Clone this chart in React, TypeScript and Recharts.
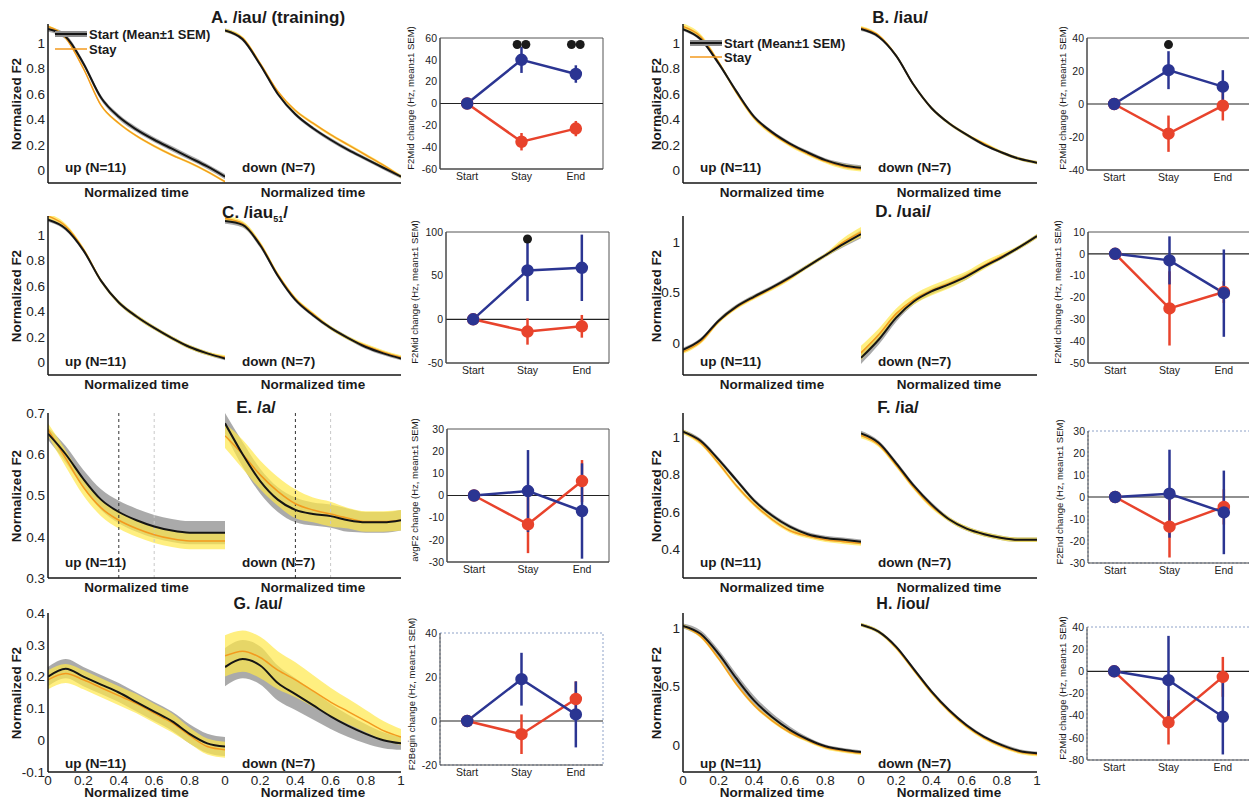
import React from 'react';
import {
  ComposedChart,
  Line,
  Area,
  Scatter,
  XAxis,
  YAxis,
  ErrorBar,
  ReferenceLine,
  ReferenceArea,
} from 'recharts';

const FONT = '"Liberation Sans", Arial, Helvetica, sans-serif';

// 归一化时间采样点
const timePoints = [0, 0.1, 0.2, 0.3, 0.4, 0.5, 0.6, 0.7, 0.8, 0.9, 1];
const timeTicks = [0, 0.2, 0.4, 0.6, 0.8, 1];

// A. /iau/ (training)
const aUpStart = [1.11, 1.05, 0.84, 0.57, 0.42, 0.32, 0.24, 0.17, 0.1, 0.03, -0.05];
const aUpStartSem = [0.02, 0.02, 0.02, 0.02, 0.02, 0.02, 0.02, 0.02, 0.02, 0.02, 0.02];
const aUpStay = [1.13, 1.04, 0.8, 0.51, 0.37, 0.27, 0.19, 0.12, 0.06, -0.01, -0.09];
const aUpStaySem = [0.01, 0.01, 0.01, 0.01, 0.01, 0.01, 0.01, 0.01, 0.01, 0.01, 0.01];
const aDownStart = [1.1, 1.03, 0.83, 0.6, 0.44, 0.33, 0.24, 0.16, 0.09, 0.02, -0.05];
const aDownStartSem = [0.015, 0.015, 0.015, 0.015, 0.015, 0.015, 0.015, 0.015, 0.015, 0.015, 0.015];
const aDownStay = [1.1, 1.04, 0.84, 0.62, 0.47, 0.37, 0.28, 0.2, 0.12, 0.04, -0.05];
const aDownStaySem = [0.012, 0.012, 0.012, 0.012, 0.012, 0.012, 0.012, 0.012, 0.012, 0.012, 0.012];

// B. /iau/
const bUpStart = [1.11, 1.03, 0.84, 0.62, 0.42, 0.3, 0.21, 0.14, 0.08, 0.04, 0.02];
const bUpStartSem = [0.015, 0.015, 0.015, 0.015, 0.015, 0.015, 0.015, 0.015, 0.015, 0.02, 0.02];
const bUpStay = [1.13, 1.05, 0.85, 0.61, 0.41, 0.29, 0.2, 0.13, 0.07, 0.03, 0.01];
const bUpStaySem = [0.025, 0.02, 0.015, 0.015, 0.015, 0.015, 0.015, 0.015, 0.015, 0.02, 0.02];
const bDownStart = [1.11, 1.05, 0.9, 0.67, 0.49, 0.37, 0.28, 0.2, 0.14, 0.09, 0.06];
const bDownStartSem = [0.015, 0.012, 0.012, 0.012, 0.012, 0.012, 0.012, 0.012, 0.012, 0.012, 0.012];
const bDownStay = [1.12, 1.06, 0.9, 0.67, 0.49, 0.37, 0.28, 0.21, 0.14, 0.09, 0.06];
const bDownStaySem = [0.015, 0.012, 0.012, 0.012, 0.012, 0.012, 0.012, 0.012, 0.012, 0.012, 0.012];

// C. /iau51/
const cUpStart = [1.12, 1.05, 0.88, 0.64, 0.47, 0.36, 0.27, 0.19, 0.12, 0.07, 0.03];
const cUpStartSem = [0.015, 0.015, 0.015, 0.015, 0.015, 0.015, 0.015, 0.015, 0.015, 0.015, 0.015];
const cUpStay = [1.15, 1.07, 0.89, 0.64, 0.47, 0.36, 0.27, 0.19, 0.12, 0.07, 0.04];
const cUpStaySem = [0.02, 0.02, 0.015, 0.015, 0.015, 0.015, 0.015, 0.015, 0.015, 0.015, 0.015];
const cDownStart = [1.11, 1.08, 0.92, 0.68, 0.49, 0.37, 0.27, 0.19, 0.12, 0.07, 0.03];
const cDownStartSem = [0.02, 0.02, 0.02, 0.015, 0.015, 0.015, 0.015, 0.015, 0.015, 0.015, 0.015];
const cDownStay = [1.13, 1.09, 0.93, 0.69, 0.5, 0.38, 0.27, 0.19, 0.13, 0.08, 0.04];
const cDownStaySem = [0.02, 0.02, 0.02, 0.015, 0.015, 0.015, 0.015, 0.015, 0.015, 0.015, 0.015];

// D. /uai/
const dUpStart = [-0.07, 0.03, 0.22, 0.36, 0.46, 0.55, 0.65, 0.76, 0.87, 0.98, 1.08];
const dUpStartSem = [0.02, 0.02, 0.02, 0.02, 0.02, 0.02, 0.02, 0.02, 0.02, 0.03, 0.04];
const dUpStay = [-0.09, 0.01, 0.21, 0.35, 0.45, 0.54, 0.64, 0.76, 0.87, 1.0, 1.1];
const dUpStaySem = [0.02, 0.02, 0.02, 0.02, 0.02, 0.02, 0.02, 0.02, 0.02, 0.04, 0.05];
const dDownStart = [-0.15, 0.03, 0.25, 0.41, 0.51, 0.58, 0.66, 0.76, 0.85, 0.95, 1.06];
const dDownStartSem = [0.06, 0.05, 0.04, 0.03, 0.03, 0.03, 0.03, 0.02, 0.02, 0.02, 0.02];
const dDownStay = [-0.1, 0.08, 0.29, 0.43, 0.52, 0.59, 0.67, 0.77, 0.86, 0.95, 1.06];
const dDownStaySem = [0.07, 0.06, 0.05, 0.05, 0.05, 0.05, 0.04, 0.04, 0.03, 0.02, 0.02];

// E. /a/
const eUpStart = [0.65, 0.6, 0.54, 0.49, 0.46, 0.44, 0.425, 0.415, 0.41, 0.41, 0.41];
const eUpStartSem = [0.015, 0.02, 0.022, 0.025, 0.027, 0.028, 0.028, 0.028, 0.028, 0.028, 0.028];
const eUpStay = [0.66, 0.59, 0.52, 0.47, 0.44, 0.42, 0.405, 0.395, 0.39, 0.39, 0.39];
const eUpStaySem = [0.015, 0.02, 0.02, 0.02, 0.02, 0.02, 0.02, 0.02, 0.02, 0.02, 0.02];
const eDownStart = [0.675, 0.6, 0.535, 0.49, 0.465, 0.455, 0.45, 0.44, 0.435, 0.435, 0.44];
const eDownStartSem = [0.025, 0.03, 0.03, 0.03, 0.03, 0.028, 0.028, 0.028, 0.025, 0.025, 0.025];
const eDownStay = [0.645, 0.6, 0.55, 0.51, 0.48, 0.465, 0.455, 0.445, 0.437, 0.437, 0.44];
const eDownStaySem = [0.03, 0.035, 0.035, 0.035, 0.035, 0.03, 0.03, 0.025, 0.025, 0.025, 0.025];

// F. /ia/
const fUpStart = [1.03, 0.98, 0.88, 0.77, 0.66, 0.58, 0.52, 0.48, 0.46, 0.45, 0.44];
const fUpStartSem = [0.012, 0.012, 0.012, 0.012, 0.012, 0.012, 0.012, 0.012, 0.012, 0.012, 0.012];
const fUpStay = [1.03, 0.97, 0.86, 0.74, 0.64, 0.56, 0.5, 0.47, 0.45, 0.44, 0.43];
const fUpStaySem = [0.012, 0.012, 0.012, 0.012, 0.012, 0.012, 0.012, 0.012, 0.012, 0.012, 0.012];
const fDownStart = [1.02, 0.97, 0.86, 0.74, 0.64, 0.56, 0.51, 0.48, 0.46, 0.45, 0.45];
const fDownStartSem = [0.015, 0.012, 0.012, 0.012, 0.012, 0.012, 0.012, 0.012, 0.012, 0.012, 0.012];
const fDownStay = [1.01, 0.96, 0.85, 0.73, 0.63, 0.56, 0.51, 0.48, 0.46, 0.45, 0.45];
const fDownStaySem = [0.015, 0.012, 0.012, 0.012, 0.012, 0.012, 0.012, 0.012, 0.012, 0.012, 0.012];

// G. /au/
const gUpStart = [0.2, 0.225, 0.2, 0.175, 0.15, 0.12, 0.09, 0.06, 0.02, -0.01, -0.02];
const gUpStartSem = [0.03, 0.03, 0.03, 0.03, 0.03, 0.03, 0.03, 0.03, 0.03, 0.03, 0.03];
const gUpStay = [0.19, 0.21, 0.19, 0.165, 0.14, 0.115, 0.085, 0.055, 0.015, -0.02, -0.03];
const gUpStaySem = [0.03, 0.03, 0.03, 0.03, 0.03, 0.03, 0.03, 0.03, 0.025, 0.025, 0.025];
const gDownStart = [0.23, 0.255, 0.235, 0.18, 0.145, 0.11, 0.075, 0.045, 0.02, 0.0, -0.01];
const gDownStartSem = [0.06, 0.06, 0.06, 0.055, 0.05, 0.045, 0.04, 0.035, 0.03, 0.025, 0.02];
const gDownStay = [0.265, 0.28, 0.26, 0.22, 0.19, 0.155, 0.12, 0.09, 0.06, 0.03, 0.01];
const gDownStaySem = [0.065, 0.065, 0.065, 0.06, 0.055, 0.05, 0.045, 0.04, 0.035, 0.03, 0.025];

// H. /iou/
const hUpStart = [1.02, 0.95, 0.78, 0.57, 0.38, 0.24, 0.13, 0.05, -0.01, -0.04, -0.06];
const hUpStartSem = [0.02, 0.03, 0.035, 0.04, 0.04, 0.035, 0.03, 0.02, 0.015, 0.015, 0.015];
const hUpStay = [1.02, 0.93, 0.74, 0.52, 0.34, 0.21, 0.11, 0.04, -0.02, -0.05, -0.07];
const hUpStaySem = [0.015, 0.015, 0.015, 0.015, 0.015, 0.015, 0.015, 0.015, 0.015, 0.015, 0.015];
const hDownStart = [1.03, 0.97, 0.84, 0.65, 0.46, 0.3, 0.17, 0.07, 0.0, -0.05, -0.07];
const hDownStartSem = [0.015, 0.015, 0.015, 0.015, 0.015, 0.015, 0.015, 0.015, 0.015, 0.015, 0.015];
const hDownStay = [1.03, 0.97, 0.83, 0.64, 0.45, 0.29, 0.16, 0.06, -0.01, -0.06, -0.08];
const hDownStaySem = [0.015, 0.015, 0.015, 0.015, 0.015, 0.015, 0.015, 0.015, 0.015, 0.015, 0.015];

// 变化量面板 (Start / Stay / End)
const conditions = ['Start', 'Stay', 'End'];

const aBlue = [0, 40, 27];
const aBlueErr = [0, 12, 8];
const aRed = [0, -35, -23];
const aRedErr = [0, 8, 7];
const aSigX = [1.92, 2.08, 2.92, 3.08];
const aSigY = [54, 54, 54, 54];

const bBlue = [0, 20.5, 10.5];
const bBlueErr = [0, 11.5, 10];
const bRed = [0, -18, -1];
const bRedErr = [0, 11, 9];
const bSigX = [2];
const bSigY = [36];

const cBlue = [0, 56, 59];
const cBlueErr = [0, 35, 38];
const cRed = [0, -14, -8];
const cRedErr = [0, 15, 13];
const cSigX = [2];
const cSigY = [92];

const dBlue = [0, -3, -18];
const dBlueErr = [0, 11, 20];
const dRed = [0, -25, -17.5];
const dRedErr = [0, 17, 5];

const eBlue = [0, 2, -7];
const eBlueErr = [0, 18.5, 21.5];
const eRed = [0, -13, 6.5];
const eRedErr = [0, 13, 9.5];

const fBlue = [0, 1.5, -7];
const fBlueErr = [0, 20, 19];
const fRed = [0, -13.5, -4.5];
const fRedErr = [0, 14, 8];

const gBlue = [0, 19, 3];
const gBlueErr = [0, 12, 15];
const gRed = [0, -6, 10];
const gRedErr = [0, 9, 8];

const hBlue = [0, -8, -41];
const hBlueErr = [0, 40, 34];
const hRed = [0, -46, -5];
const hRedErr = [0, 20, 18];

// 颜色
const BLUE = '#2b3592';
const RED = '#e8432c';
const ORANGE = '#f39a1e';
const INK = '#151515';

const unitTicks = [0, 0.2, 0.4, 0.6, 0.8, 1];

function trajRows(start: number[], startSem: number[], stay: number[], staySem: number[]) {
  return timePoints.map((t, i) => ({
    t,
    start: start[i],
    stay: stay[i],
    startBand: [start[i] - startSem[i], start[i] + startSem[i]],
    stayBand: [stay[i] - staySem[i], stay[i] + staySem[i]],
  }));
}

function changeRows(blue: number[], blueErr: number[], red: number[], redErr: number[]) {
  return conditions.map((c, i) => ({
    x: i + 1,
    blue: blue[i],
    blueErr: blueErr[i],
    red: red[i],
    redErr: redErr[i],
  }));
}

function sigRows(xs: number[], ys: number[]) {
  return xs.map((x, i) => ({ x, y: ys[i] }));
}

interface TrajProps {
  x: number;
  y: number;
  w: number;
  h: number;
  domain: [number, number];
  yTicks: number[];
  rows: ReturnType<typeof trajRows>;
  showY?: boolean;
  xLabels?: boolean;
  hideLastX?: boolean;
  dashed?: boolean;
}

function TrajPanel({ x, y, w, h, domain, yTicks, rows, showY, xLabels, hideLastX, dashed }: TrajProps) {
  const yW = showY ? 44 : 0;
  const padLeft = showY ? 0 : 8;
  const padTop = 10;
  const padRight = 4;
  const xH = 24;
  return (
    <div style={{ position: 'absolute', left: x - yW - padLeft, top: y - padTop }}>
      <ComposedChart
        width={w + yW + padLeft + padRight}
        height={h + padTop + xH}
        data={rows}
        margin={{ top: padTop, right: padRight, left: padLeft, bottom: 0 }}
      >
        <XAxis
          type="number"
          dataKey="t"
          domain={[0, 1]}
          ticks={timeTicks}
          interval={0}
          allowDataOverflow
          height={xH}
          axisLine={{ stroke: INK, strokeWidth: 1.5 }}
          tickLine={false}
          tickSize={2}
          tickMargin={1}
          tick={xLabels ? { fontSize: 13.5, fill: '#222', fontFamily: FONT } : false}
          tickFormatter={(v: number) => (hideLastX && v === 1 ? '' : String(v))}
        />
        <YAxis
          type="number"
          domain={domain}
          ticks={yTicks}
          interval={0}
          allowDataOverflow
          width={yW}
          axisLine={{ stroke: INK, strokeWidth: 1.5 }}
          tickLine={false}
          tickSize={2}
          tickMargin={1}
          tick={showY ? { fontSize: 13.5, fill: '#222', fontFamily: FONT } : false}
        />
        <Area
          type="monotone"
          dataKey="startBand"
          stroke="none"
          fill="#8e8e8e"
          fillOpacity={0.75}
          isAnimationActive={false}
        />
        <Area
          type="monotone"
          dataKey="stayBand"
          stroke="none"
          fill="#ffe84a"
          fillOpacity={0.7}
          isAnimationActive={false}
        />
        {dashed && <ReferenceLine x={0.4} stroke="#333" strokeDasharray="3 3" />}
        {dashed && <ReferenceLine x={0.6} stroke="#c8c8c8" strokeDasharray="3 3" />}
        <Line
          type="monotone"
          dataKey="stay"
          stroke={ORANGE}
          strokeWidth={1.5}
          dot={false}
          isAnimationActive={false}
        />
        <Line
          type="monotone"
          dataKey="start"
          stroke={INK}
          strokeWidth={2}
          dot={false}
          isAnimationActive={false}
        />
      </ComposedChart>
    </div>
  );
}

interface ChangeProps {
  x: number;
  y: number;
  w: number;
  h: number;
  domain: [number, number];
  yTicks: number[];
  rows: ReturnType<typeof changeRows>;
  sig?: { x: number; y: number }[];
  dotted?: boolean;
}

function ChangePanel({ x, y, w, h, domain, yTicks, rows, sig, dotted }: ChangeProps) {
  const yW = 28;
  const padTop = 8;
  const padRight = 4;
  const xH = 18;
  return (
    <div style={{ position: 'absolute', left: x - yW, top: y - padTop }}>
      <ComposedChart
        width={w + yW + padRight}
        height={h + padTop + xH}
        data={rows}
        margin={{ top: padTop, right: padRight, left: 0, bottom: 0 }}
      >
        <XAxis
          type="number"
          dataKey="x"
          domain={[0.5, 3.5]}
          ticks={[1, 2, 3]}
          interval={0}
          allowDataOverflow
          height={xH}
          axisLine={{ stroke: '#444' }}
          tickLine={false}
          tickSize={2}
          tickMargin={2}
          tick={{ fontSize: 10.5, fill: '#222', fontFamily: FONT }}
          tickFormatter={(v: number) => conditions[v - 1] ?? ''}
        />
        <YAxis
          type="number"
          domain={domain}
          ticks={yTicks}
          interval={0}
          allowDataOverflow
          width={yW}
          axisLine={{ stroke: '#444' }}
          tickLine={false}
          tickSize={2}
          tickMargin={1}
          tick={{ fontSize: 10.5, fill: '#222', fontFamily: FONT }}
        />
        <ReferenceArea
          x1={0.5}
          x2={3.5}
          y1={domain[0]}
          y2={domain[1]}
          fill="none"
          stroke={dotted ? '#8ea2c8' : '#555'}
          strokeDasharray={dotted ? '2 2' : undefined}
        />
        <ReferenceLine y={0} stroke="#222" strokeWidth={1.2} />
        <Line
          type="linear"
          dataKey="red"
          stroke={RED}
          strokeWidth={2.5}
          dot={{ r: 5, fill: RED, stroke: RED }}
          isAnimationActive={false}
        >
          <ErrorBar dataKey="redErr" direction="y" width={0} stroke={RED} strokeWidth={2.5} />
        </Line>
        <Line
          type="linear"
          dataKey="blue"
          stroke={BLUE}
          strokeWidth={2.5}
          dot={{ r: 5, fill: BLUE, stroke: BLUE }}
          isAnimationActive={false}
        >
          <ErrorBar dataKey="blueErr" direction="y" width={0} stroke={BLUE} strokeWidth={2.5} />
        </Line>
        {sig && (
          <Scatter
            data={sig}
            dataKey="y"
            fill="#1a1a1a"
            shape={(p: any) => <circle cx={p.cx} cy={p.cy} r={4.5} fill="#1a1a1a" />}
            isAnimationActive={false}
          />
        )}
      </ComposedChart>
    </div>
  );
}

function Txt({
  x,
  y,
  children,
  size = 13.5,
  bold = true,
  rotate = false,
  align = 'center',
}: {
  x: number;
  y: number;
  children: React.ReactNode;
  size?: number;
  bold?: boolean;
  rotate?: boolean;
  align?: 'center' | 'left';
}) {
  const tx = align === 'center' ? '-50%' : '0';
  return (
    <div
      style={{
        position: 'absolute',
        left: x,
        top: y,
        transform: `translate(${tx}, -50%)${rotate ? ' rotate(-90deg)' : ''}`,
        transformOrigin: align === 'center' ? 'center' : 'left center',
        whiteSpace: 'nowrap',
        fontFamily: FONT,
        fontSize: size,
        fontWeight: bold ? 700 : 400,
        color: '#1a1a1a',
        lineHeight: 1,
      }}
    >
      {children}
    </div>
  );
}

function LegendBox({ x, y, gap }: { x: number; y: number; gap: number }) {
  return (
    <>
      <svg style={{ position: 'absolute', left: x, top: y - 8 }} width={34} height={gap + 16}>
        <line x1={0} y1={8} x2={32} y2={8} stroke="#8e8e8e" strokeWidth={6} />
        <line x1={0} y1={8} x2={32} y2={8} stroke={INK} strokeWidth={2} />
        <line x1={0} y1={8 + gap} x2={32} y2={8 + gap} stroke={ORANGE} strokeWidth={1.5} />
      </svg>
      <Txt x={x + 34} y={y} align="left" size={13}>
        Start (Mean±1 SEM)
      </Txt>
      <Txt x={x + 34} y={y + gap} align="left" size={13}>
        Stay
      </Txt>
    </>
  );
}

// 每一行轨迹面板的纵向位置
const rowTop = [24, 216, 413, 613];
const rowH = [159, 159, 165, 159];

function TrajPair({
  col,
  row,
  domain,
  yTicks,
  up,
  down,
  dashed,
}: {
  col: number;
  row: number;
  domain: [number, number];
  yTicks: number[];
  up: ReturnType<typeof trajRows>;
  down: ReturnType<typeof trajRows>;
  dashed?: boolean;
}) {
  const upX = col === 0 ? 48 : 683;
  const upW = col === 0 ? 177 : 178;
  const downX = upX + upW;
  const downW = 176;
  const top = rowTop[row];
  const h = rowH[row];
  const bottom = top + h;
  const last = row === 3;
  const nLabelY = [168, 362, 563, 764][row];
  const timeY = last ? 793 : bottom + 10;
  return (
    <>
      <TrajPanel
        x={upX}
        y={top}
        w={upW}
        h={h}
        domain={domain}
        yTicks={yTicks}
        rows={up}
        showY
        xLabels={last}
        hideLastX
        dashed={dashed}
      />
      <TrajPanel
        x={downX}
        y={top}
        w={downW}
        h={h}
        domain={domain}
        yTicks={yTicks}
        rows={down}
        xLabels={last}
        dashed={dashed}
      />
      <Txt x={col === 0 ? 17 : 657} y={top + h / 2} rotate>
        Normalized F2
      </Txt>
      <Txt x={upX + 17} y={nLabelY} align="left">
        up (N=11)
      </Txt>
      <Txt x={downX + 17} y={nLabelY} align="left">
        down (N=7)
      </Txt>
      <Txt x={upX + upW / 2} y={timeY}>
        Normalized time
      </Txt>
      <Txt x={downX + downW / 2} y={timeY}>
        Normalized time
      </Txt>
    </>
  );
}

export default function App() {
  return (
    <div
      style={{
        position: 'absolute',
        left: 0,
        top: 0,
        width: 1249,
        height: 801,
        background: '#fff',
        overflow: 'hidden',
      }}
    >
      {/* A */}
      <TrajPair
        col={0}
        row={0}
        domain={[-0.1, 1.15]}
        yTicks={unitTicks}
        up={trajRows(aUpStart, aUpStartSem, aUpStay, aUpStaySem)}
        down={trajRows(aDownStart, aDownStartSem, aDownStay, aDownStaySem)}
      />
      <LegendBox x={55} y={34} gap={15} />
      <Txt x={278} y={17} size={17}>
        A. /iau/ (training)
      </Txt>
      <ChangePanel
        x={440}
        y={38}
        w={163}
        h={131}
        domain={[-60, 60]}
        yTicks={[-60, -40, -20, 0, 20, 40, 60]}
        rows={changeRows(aBlue, aBlueErr, aRed, aRedErr)}
        sig={sigRows(aSigX, aSigY)}
      />
      <Txt x={411} y={98} size={9.5} bold={false} rotate>
        F2Mid change (Hz, mean±1 SEM)
      </Txt>

      {/* B */}
      <TrajPair
        col={1}
        row={0}
        domain={[-0.1, 1.15]}
        yTicks={unitTicks}
        up={trajRows(bUpStart, bUpStartSem, bUpStay, bUpStaySem)}
        down={trajRows(bDownStart, bDownStartSem, bDownStay, bDownStaySem)}
      />
      <LegendBox x={690} y={43} gap={14} />
      <Txt x={900} y={17} size={17}>
        B. /iau/
      </Txt>
      <ChangePanel
        x={1087}
        y={38}
        w={163}
        h={132}
        domain={[-40, 40]}
        yTicks={[-40, -20, 0, 20, 40]}
        rows={changeRows(bBlue, bBlueErr, bRed, bRedErr)}
        sig={sigRows(bSigX, bSigY)}
      />
      <Txt x={1063} y={98} size={9.5} bold={false} rotate>
        F2Mid change (Hz, mean±1 SEM)
      </Txt>

      {/* C */}
      <TrajPair
        col={0}
        row={1}
        domain={[-0.1, 1.15]}
        yTicks={unitTicks}
        up={trajRows(cUpStart, cUpStartSem, cUpStay, cUpStaySem)}
        down={trajRows(cDownStart, cDownStartSem, cDownStay, cDownStaySem)}
      />
      <Txt x={255} y={212} size={17}>
        C. /iau<sub style={{ fontSize: 9, lineHeight: 0 }}>51</sub>/
      </Txt>
      <ChangePanel
        x={446}
        y={232}
        w={163}
        h={131}
        domain={[-50, 100]}
        yTicks={[-50, 0, 50, 100]}
        rows={changeRows(cBlue, cBlueErr, cRed, cRedErr)}
        sig={sigRows(cSigX, cSigY)}
      />
      <Txt x={415} y={292} size={9.5} bold={false} rotate>
        F2Mid change (Hz, mean±1 SEM)
      </Txt>

      {/* D */}
      <TrajPair
        col={1}
        row={1}
        domain={[-0.32, 1.26]}
        yTicks={[0, 0.5, 1]}
        up={trajRows(dUpStart, dUpStartSem, dUpStay, dUpStaySem)}
        down={trajRows(dDownStart, dDownStartSem, dDownStay, dDownStaySem)}
      />
      <Txt x={903} y={211} size={17}>
        D. /uai/
      </Txt>
      <ChangePanel
        x={1088}
        y={232}
        w={163}
        h={131}
        domain={[-50, 10]}
        yTicks={[-50, -40, -30, -20, -10, 0, 10]}
        rows={changeRows(dBlue, dBlueErr, dRed, dRedErr)}
      />
      <Txt x={1058} y={292} size={9.5} bold={false} rotate>
        F2Mid change (Hz, mean±1 SEM)
      </Txt>

      {/* E */}
      <TrajPair
        col={0}
        row={2}
        domain={[0.3, 0.7]}
        yTicks={[0.3, 0.4, 0.5, 0.6, 0.7]}
        up={trajRows(eUpStart, eUpStartSem, eUpStay, eUpStaySem)}
        down={trajRows(eDownStart, eDownStartSem, eDownStay, eDownStaySem)}
        dashed
      />
      <Txt x={256} y={407} size={17}>
        E. /a/
      </Txt>
      <ChangePanel
        x={447}
        y={429}
        w={162}
        h={133}
        domain={[-30, 30]}
        yTicks={[-30, -20, -10, 0, 10, 20, 30]}
        rows={changeRows(eBlue, eBlueErr, eRed, eRedErr)}
      />
      <Txt x={415} y={490} size={9.5} bold={false} rotate>
        avgF2 change (Hz, mean±1 SEM)
      </Txt>

      {/* F */}
      <TrajPair
        col={1}
        row={2}
        domain={[0.245, 1.13]}
        yTicks={[0.4, 0.6, 0.8, 1]}
        up={trajRows(fUpStart, fUpStartSem, fUpStay, fUpStaySem)}
        down={trajRows(fDownStart, fDownStartSem, fDownStay, fDownStaySem)}
      />
      <Txt x={898} y={407} size={17}>
        F. /ia/
      </Txt>
      <ChangePanel
        x={1088}
        y={431}
        w={163}
        h={132}
        domain={[-30, 30]}
        yTicks={[-30, -20, -10, 0, 10, 20, 30]}
        rows={changeRows(fBlue, fBlueErr, fRed, fRedErr)}
        dotted
      />
      <Txt x={1060} y={492} size={9.5} bold={false} rotate>
        F2End change (Hz, mean±1 SEM)
      </Txt>

      {/* G */}
      <TrajPair
        col={0}
        row={3}
        domain={[-0.1, 0.4]}
        yTicks={[-0.1, 0, 0.1, 0.2, 0.3, 0.4]}
        up={trajRows(gUpStart, gUpStartSem, gUpStay, gUpStaySem)}
        down={trajRows(gDownStart, gDownStartSem, gDownStay, gDownStaySem)}
      />
      <Txt x={258} y={604} size={16}>
        G. /au/
      </Txt>
      <ChangePanel
        x={440}
        y={633}
        w={163}
        h={132}
        domain={[-20, 40]}
        yTicks={[-20, 0, 20, 40]}
        rows={changeRows(gBlue, gBlueErr, gRed, gRedErr)}
        dotted
      />
      <Txt x={412} y={694} size={9.5} bold={false} rotate>
        F2Begin change (Hz, mean±1 SEM)
      </Txt>

      {/* H */}
      <TrajPair
        col={1}
        row={3}
        domain={[-0.23, 1.13]}
        yTicks={[0, 0.5, 1]}
        up={trajRows(hUpStart, hUpStartSem, hUpStay, hUpStaySem)}
        down={trajRows(hDownStart, hDownStartSem, hDownStay, hDownStaySem)}
      />
      <Txt x={903} y={604} size={16}>
        H. /iou/
      </Txt>
      <ChangePanel
        x={1087}
        y={627}
        w={163}
        h={133}
        domain={[-80, 40]}
        yTicks={[-80, -60, -40, -20, 0, 20, 40]}
        rows={changeRows(hBlue, hBlueErr, hRed, hRedErr)}
        dotted
      />
      <Txt x={1063} y={688} size={9.5} bold={false} rotate>
        F2Mid change (Hz, mean±1 SEM)
      </Txt>
    </div>
  );
}
